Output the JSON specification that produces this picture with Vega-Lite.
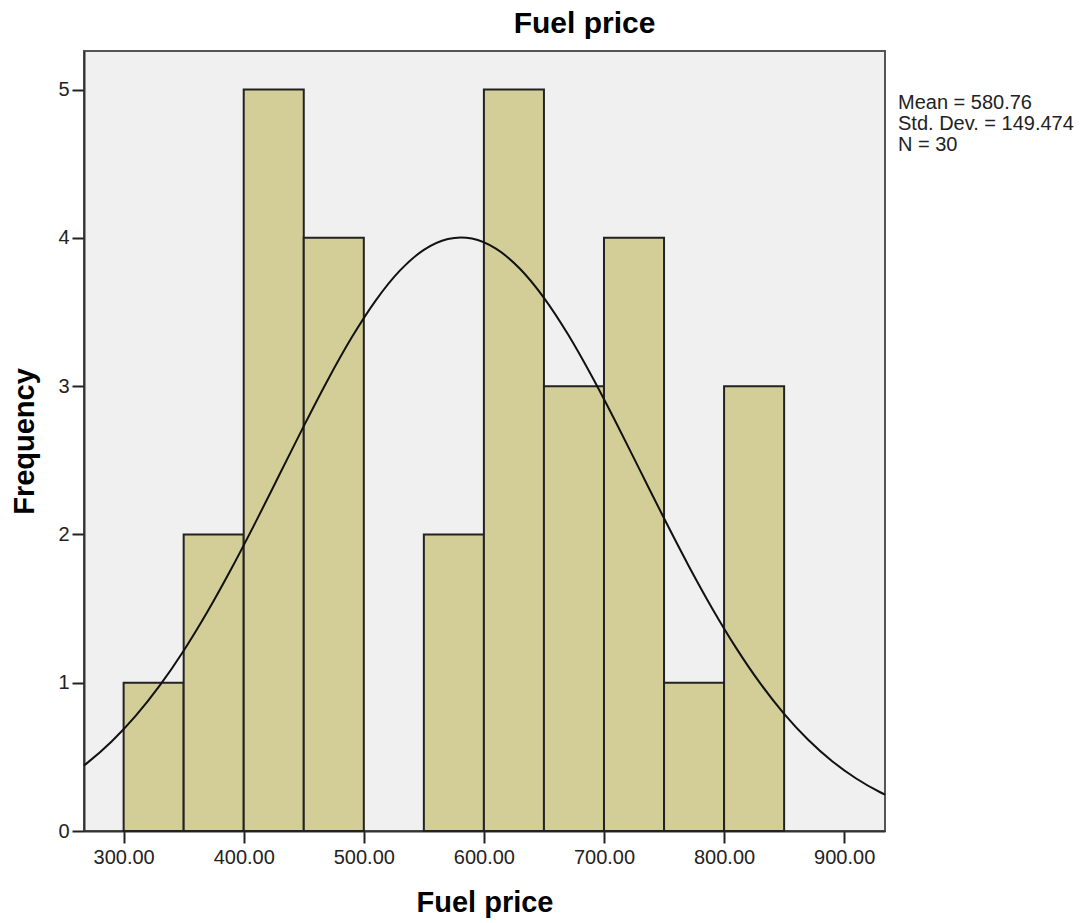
{
  "$schema": "https://vega.github.io/schema/vega-lite/v6.json",
  "autosize": "none",
  "width": 801,
  "height": 780,
  "padding": {"left": 84, "top": 51, "right": 203, "bottom": 92},
  "background": "#FFFFFF",
  "title": {
    "text": "Fuel price",
    "font": "Liberation Sans",
    "fontSize": 30,
    "fontWeight": "bold",
    "color": "#000000",
    "anchor": "middle",
    "dx": 100,
    "offset": 12
  },
  "config": {
    "view": {"fill": "#F0F0F0", "stroke": "#555555", "strokeWidth": 2},
    "font": "Liberation Sans",
    "axis": {
      "grid": false,
      "domainColor": "#333333",
      "domainWidth": 2,
      "tickColor": "#222222",
      "tickWidth": 2,
      "tickSize": 12,
      "labelFont": "Liberation Sans",
      "labelFontSize": 20,
      "labelColor": "#222222",
      "titleFont": "Liberation Sans",
      "titleFontSize": 29,
      "titleFontWeight": "bold",
      "titleColor": "#000000"
    }
  },
  "datasets": {
    "bins": [
      {"start": 300, "end": 350, "count": 1},
      {"start": 350, "end": 400, "count": 2},
      {"start": 400, "end": 450, "count": 5},
      {"start": 450, "end": 500, "count": 4},
      {"start": 500, "end": 550, "count": 0},
      {"start": 550, "end": 600, "count": 2},
      {"start": 600, "end": 650, "count": 5},
      {"start": 650, "end": 700, "count": 3},
      {"start": 700, "end": 750, "count": 4},
      {"start": 750, "end": 800, "count": 1},
      {"start": 800, "end": 850, "count": 3}
    ],
    "normal": [
      {"price": 267, "freq": 0.4422},
      {"price": 270, "freq": 0.4611},
      {"price": 290, "freq": 0.6036},
      {"price": 310, "freq": 0.776},
      {"price": 330, "freq": 0.98},
      {"price": 350, "freq": 1.2157},
      {"price": 370, "freq": 1.4814},
      {"price": 390, "freq": 1.773},
      {"price": 410, "freq": 2.0844},
      {"price": 430, "freq": 2.407},
      {"price": 450, "freq": 2.7303},
      {"price": 470, "freq": 3.042},
      {"price": 490, "freq": 3.3291},
      {"price": 510, "freq": 3.5787},
      {"price": 530, "freq": 3.7787},
      {"price": 550, "freq": 3.9191},
      {"price": 570, "freq": 3.9926},
      {"price": 580.76, "freq": 4.003},
      {"price": 590, "freq": 3.9954},
      {"price": 610, "freq": 3.9271},
      {"price": 630, "freq": 3.7916},
      {"price": 650, "freq": 3.5957},
      {"price": 670, "freq": 3.3495},
      {"price": 690, "freq": 3.0648},
      {"price": 710, "freq": 2.7545},
      {"price": 730, "freq": 2.4317},
      {"price": 750, "freq": 2.1087},
      {"price": 770, "freq": 1.7961},
      {"price": 790, "freq": 1.5027},
      {"price": 810, "freq": 1.2349},
      {"price": 830, "freq": 0.9968},
      {"price": 850, "freq": 0.7904},
      {"price": 870, "freq": 0.6156},
      {"price": 890, "freq": 0.4709},
      {"price": 910, "freq": 0.3539},
      {"price": 930, "freq": 0.2612},
      {"price": 934, "freq": 0.2453}
    ]
  },
  "layer": [
    {
      "data": {"name": "bins"},
      "transform": [{"filter": "datum.count > 0"}],
      "mark": {"type": "bar", "fill": "#D3CE97", "stroke": "#222222", "strokeWidth": 2},
      "encoding": {
        "x": {
          "field": "start",
          "type": "quantitative",
          "scale": {"domain": [267, 934], "nice": false, "zero": false},
          "axis": {
            "title": "Fuel price",
            "values": [300, 400, 500, 600, 700, 800, 900],
            "format": ".2f",
            "labelPadding": 4,
            "titlePadding": 21
          }
        },
        "x2": {"field": "end"},
        "y": {
          "field": "count",
          "type": "quantitative",
          "scale": {"domain": [0, 5.26], "nice": false},
          "axis": {
            "title": "Frequency",
            "values": [0, 1, 2, 3, 4, 5],
            "format": "d",
            "labelPadding": 3,
            "titlePadding": 18
          }
        },
        "y2": {"datum": 0}
      }
    },
    {
      "data": {"name": "normal"},
      "mark": {"type": "line", "color": "#111111", "strokeWidth": 2, "interpolate": "monotone"},
      "encoding": {
        "x": {"field": "price", "type": "quantitative"},
        "y": {"field": "freq", "type": "quantitative"}
      }
    },
    {
      "data": {"values": [{}]},
      "mark": {
        "type": "text",
        "text": ["Mean = 580.76", "Std. Dev. = 149.474", "N = 30"],
        "font": "Liberation Sans",
        "fontSize": 20,
        "lineHeight": 21,
        "align": "left",
        "baseline": "top",
        "dx": 13,
        "color": "#222222"
      },
      "encoding": {
        "x": {"datum": 934},
        "y": {"datum": 4.975}
      }
    }
  ]
}
